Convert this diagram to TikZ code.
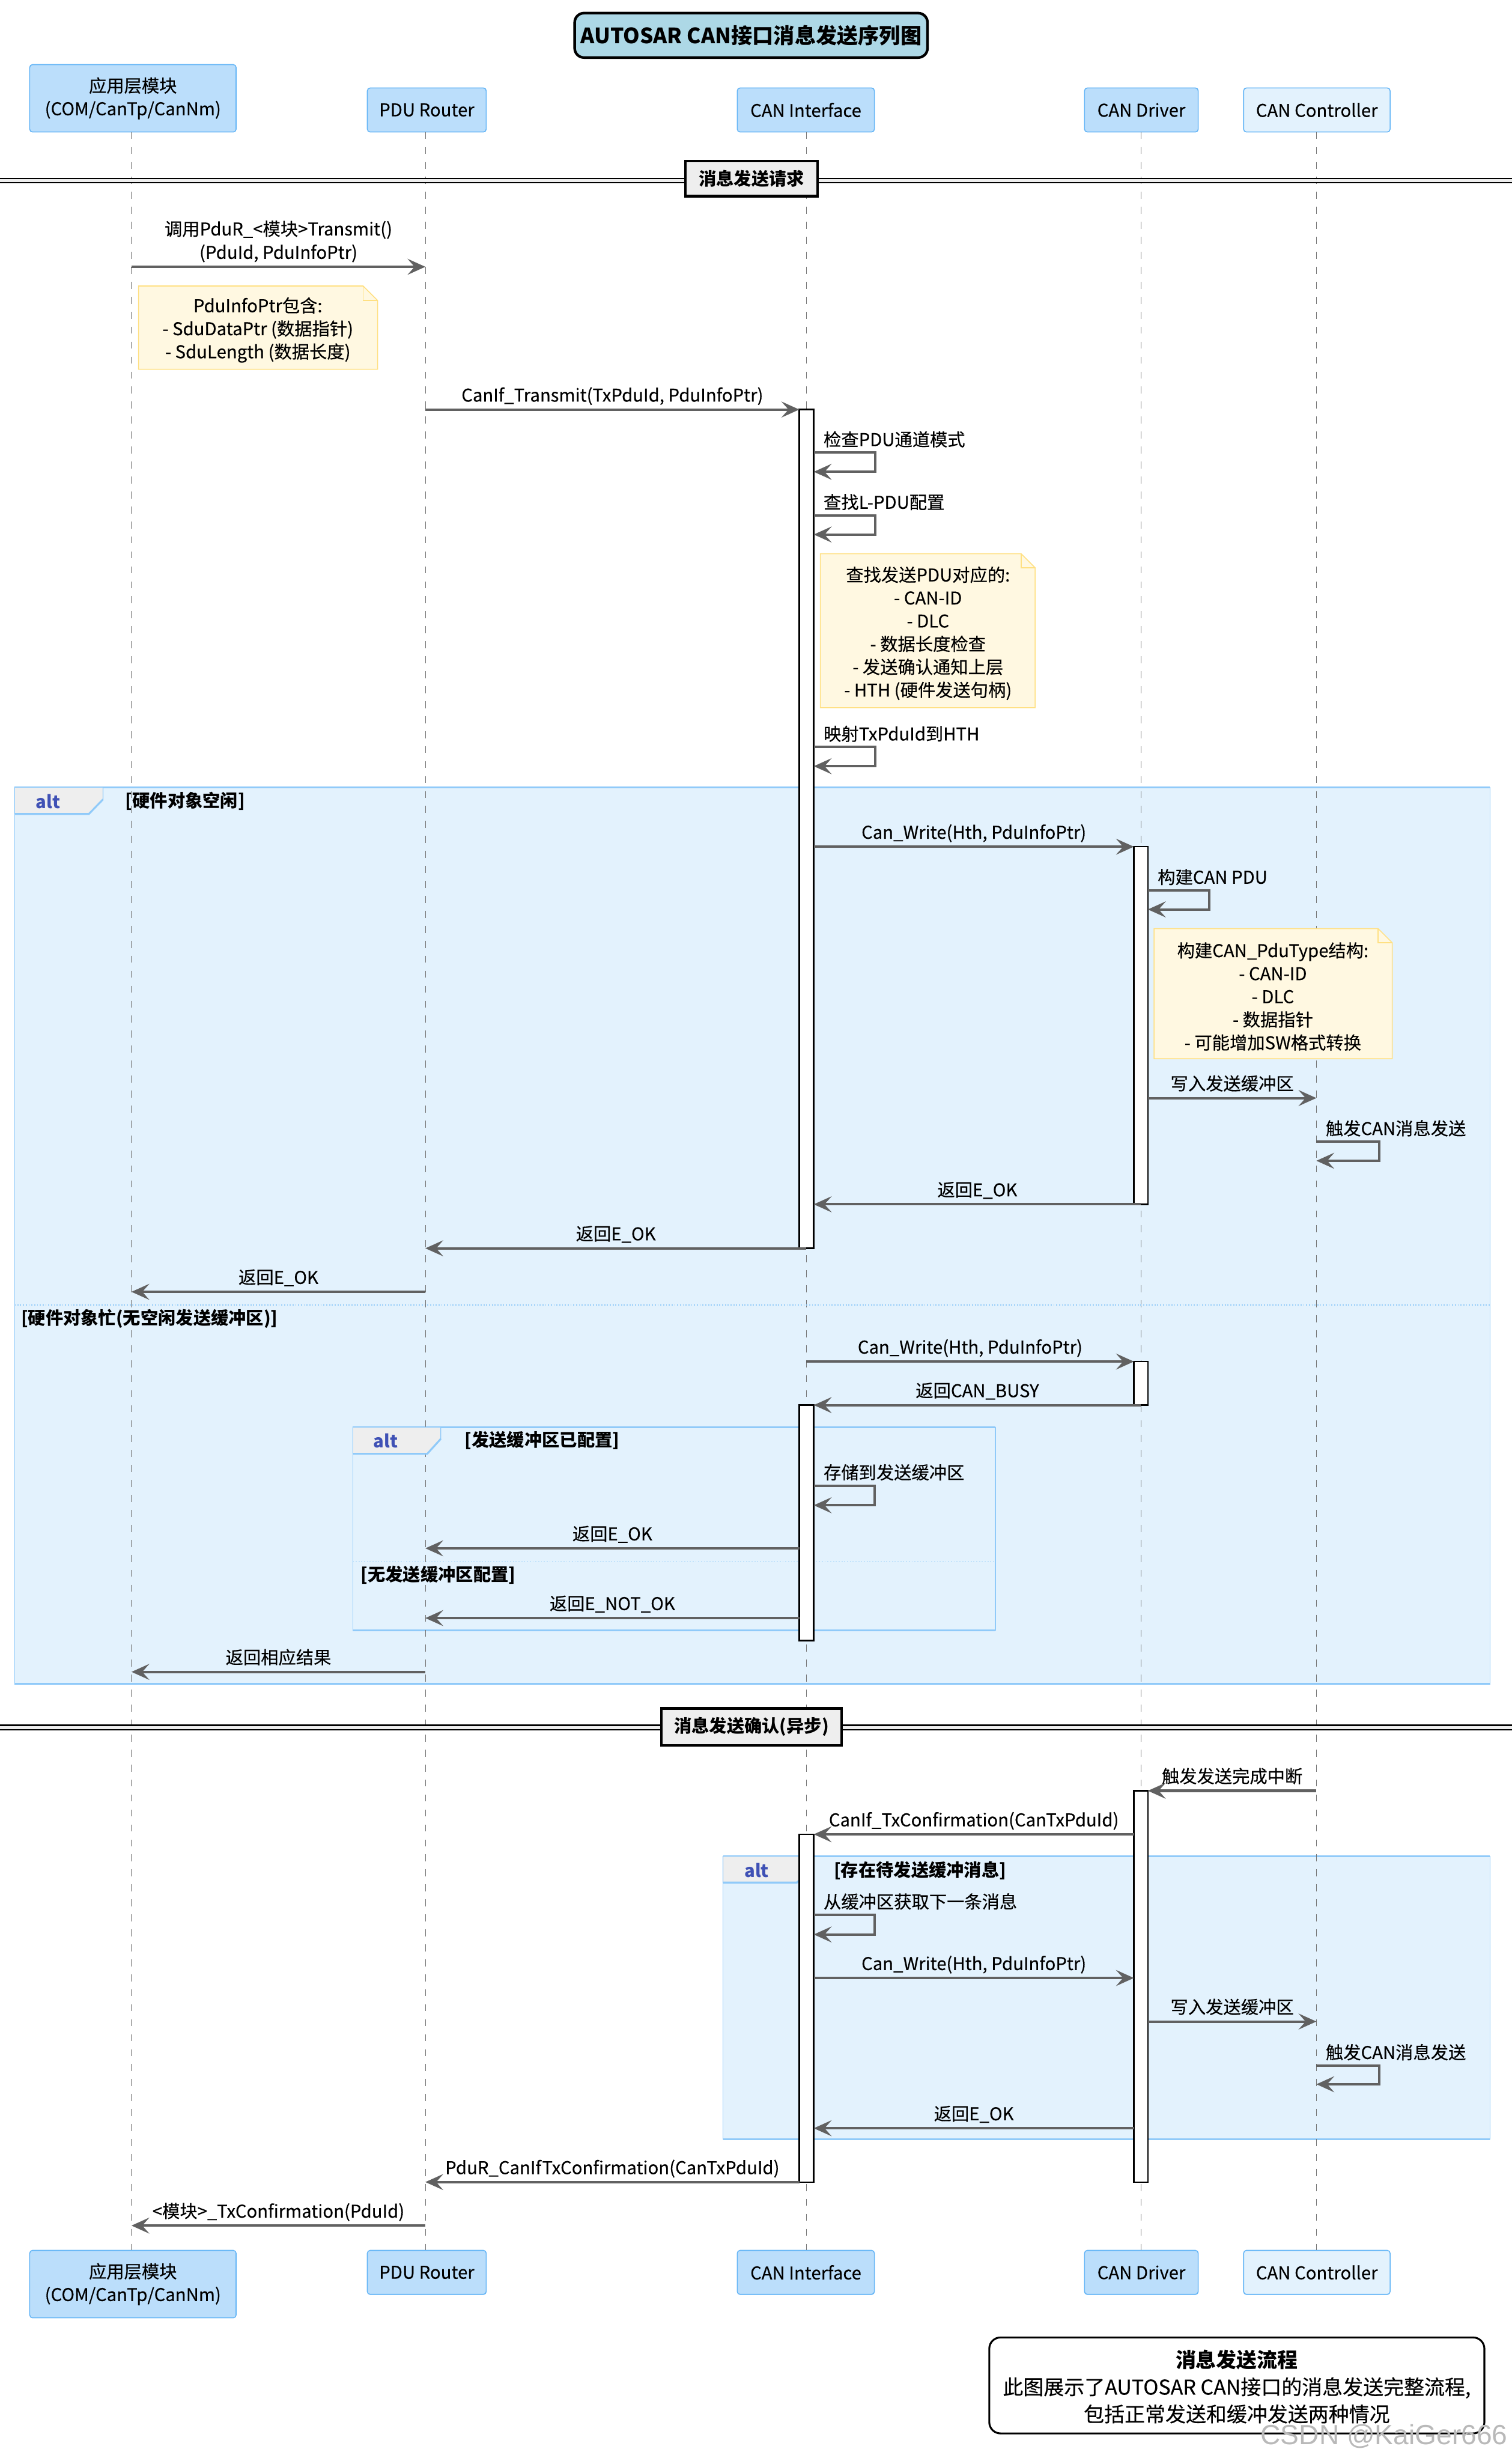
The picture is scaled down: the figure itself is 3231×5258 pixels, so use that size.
\documentclass[tikz,border=0pt]{standalone}
\usepackage{fontspec}
\setmainfont{Noto Sans CJK SC}[UprightFeatures={FakeBold=0.3}]
\newfontfamily\markfont{Liberation Sans}
\usetikzlibrary{arrows.meta}

\definecolor{partfill}{HTML}{BBDEFB}
\definecolor{partline}{HTML}{64B5F6}
\definecolor{ctlfill}{HTML}{E3F2FD}
\definecolor{framefill}{HTML}{E3F2FD}
\definecolor{frameline}{HTML}{90CAF9}
\definecolor{tabfill}{HTML}{EEEEEE}
\definecolor{notefill}{HTML}{FFF8E1}
\definecolor{noteline}{HTML}{FFE082}
\definecolor{msgline}{HTML}{616161}
\definecolor{alttext}{HTML}{3F51B5}
\definecolor{titlefill}{HTML}{ADD8E6}
\definecolor{lifecol}{HTML}{757575}

\begin{document}
\begin{tikzpicture}[x=0.25pt,y=-0.25pt,
  every node/.style={inner sep=0pt, outer sep=0pt, font=\fontsize{9.4}{12.3}\selectfont},
  part/.style={draw=partline, fill=partfill, line width=0.5pt, rounded corners=1.5pt, align=center, minimum height=23.5pt},
  ctlpart/.style={part, fill=ctlfill},
  life/.style={draw=lifecol, line width=0.35pt, dash pattern=on 3.75pt off 4.25pt},
  actbox/.style={draw=black, fill=white, line width=0.8pt},
  msg/.style={draw=msgline, line width=1.3pt, -{Stealth[length=9.5pt,width=8.5pt,inset=3.75pt]}},
  lbl/.style={anchor=base, yshift=4.25pt},
  slbl/.style={anchor=base west},
  framebox/.style={fill=framefill, draw=frameline, line width=0.4pt},
  frameedge/.style={draw=frameline, line width=1pt},
  tab/.style={fill=tabfill, draw=frameline, line width=0.4pt},
  altword/.style={font=\fontsize{9.4}{12.3}\selectfont\bfseries, text=alttext},
  guard/.style={anchor=west, font=\fontsize{9.4}{12.3}\selectfont\bfseries},
  sep/.style={draw=frameline, line width=0.5pt, dash pattern=on 0.6pt off 0.9pt},
  note/.style={fill=notefill, draw=noteline, line width=0.5pt},
  notetext/.style={align=center},
  divline/.style={draw=black, line width=0.8pt},
  divbox/.style={fill=tabfill, draw=black, line width=1.4pt, font=\fontsize{9.4}{12.3}\selectfont\bfseries},
]
\useasboundingbox (0,0) rectangle (3231,5258);
\fill[white] (0,0) rectangle (3231,5258);

% lifeline x positions
\coordinate (app) at (281,0);
\coordinate (pdu) at (909,0);
\coordinate (canif) at (1723,0);
\coordinate (ifL) at (1708,0);
\coordinate (ifR) at (1739,0);
\coordinate (drv) at (2438,0);
\coordinate (drvL) at (2423,0);
\coordinate (drvR) at (2453,0);
\coordinate (ctl) at (2813,0);

% combined fragments (backgrounds)
\path[framebox] (31,1682) rectangle (3184,3598);
\draw[frameedge] (31,1682) -- (3184,1682);
\draw[frameedge] (31,3598) -- (3184,3598);
\path[framebox] (754,3049) rectangle (2127,3483);
\draw[frameedge] (754,3049) -- (2127,3049);
\draw[frameedge] (754,3483) -- (2127,3483);
\path[framebox] (1545,3966) rectangle (3184,4571);
\draw[frameedge] (1545,3966) -- (3184,3966);
\draw[frameedge] (1545,4571) -- (3184,4571);

% participants
\node[part, minimum width=110.25pt, minimum height=36pt] (appT) at (284,210) {应用层模块\\(COM/CanTp/CanNm)};
\node[part, minimum width=63.5pt] (pduT) at (912,235) {PDU Router};
\node[part, minimum width=73.25pt] (ifT) at (1722,235) {CAN Interface};
\node[part, minimum width=60.75pt] (drvT) at (2439,235) {CAN Driver};
\node[ctlpart, minimum width=78.25pt] (ctlT) at (2814,235) {CAN Controller};
\node[part, minimum width=110.25pt, minimum height=36pt] (appB) at (284,4880) {应用层模块\\(COM/CanTp/CanNm)};
\node[part, minimum width=63.5pt] (pduB) at (912,4855) {PDU Router};
\node[part, minimum width=73.25pt] (ifB) at (1722,4855) {CAN Interface};
\node[part, minimum width=60.75pt] (drvB) at (2439,4855) {CAN Driver};
\node[ctlpart, minimum width=78.25pt] (ctlB) at (2814,4855) {CAN Controller};

% lifelines
\draw[life] (app |- appT.south) -- (app |- appB.north);
\draw[life] (pdu |- pduT.south) -- (pdu |- pduB.north);
\draw[life] (canif |- ifT.south) -- (canif |- ifB.north);
\draw[life] (drv |- drvT.south) -- (drv |- drvB.north);
\draw[life] (ctl |- ctlT.south) -- (ctl |- ctlB.north);

% section dividers
\fill[tabfill] (0,381) rectangle (3231,390);
\draw[divline] (0,381) -- (3231,381);
\draw[divline] (0,390) -- (3231,390);
\node[divbox, minimum width=70.5pt, minimum height=18.75pt] (div1) at (1606,381.5) {消息发送请求};
\fill[tabfill] (0,3686) rectangle (3231,3696);
\draw[divline] (0,3686) -- (3231,3686);
\draw[divline] (0,3696) -- (3231,3696);
\node[divbox, minimum width=96.25pt, minimum height=19.75pt] (div2) at (1606,3689.5) {消息发送确认(异步)};

% fragment tabs, guards and separators
\path[tab] (31,1682) -- (220,1682) -- (220,1708) -- (190,1739) -- (31,1739) -- cycle;
\draw[frameedge] (31,1739) -- (190,1739) -- (220,1708);
\node[altword] (alt1) at (103,1712) {alt};
\node[guard] (g1) at (268,1712) {[硬件对象空闲]};
\draw[sep] (31,2788) -- (3184,2788);
\node[guard] (g2) at (45,2817) {[硬件对象忙(无空闲发送缓冲区)]};

\path[tab] (754,3049) -- (942,3049) -- (942,3074) -- (913,3106) -- (754,3106) -- cycle;
\draw[frameedge] (754,3106) -- (913,3106) -- (942,3074);
\node[altword] (alt2) at (824,3078) {alt};
\node[guard] (g3) at (993,3078) {[发送缓冲区已配置]};
\draw[sep] (754,3337) -- (2127,3337);
\node[guard] (g4) at (771,3365) {[无发送缓冲区配置]};

\path[tab] (1545,3966) -- (1731,3966) -- (1731,3995) -- (1703,4022) -- (1545,4022) -- cycle;
\draw[frameedge] (1545,4022) -- (1703,4022) -- (1731,3995);
\node[altword] (alt3) at (1617,3996) {alt};
\node[guard] (g5) at (1782,3996) {[存在待发送缓冲消息]};

% notes
\path[note] (296,611) -- (776,611) -- (807,642) -- (807,789) -- (296,789) -- cycle;
\draw[note, fill=none] (776,611) -- (776,642) -- (807,642);
\node[notetext] (n1) at (551,705) {PduInfoPtr包含:\\- SduDataPtr (数据指针)\\- SduLength (数据长度)};

\path[note] (1753,1183) -- (2182,1183) -- (2212,1213) -- (2212,1512) -- (1753,1512) -- cycle;
\draw[note, fill=none] (2182,1183) -- (2182,1213) -- (2212,1213);
\node[notetext] (n2) at (1983,1353) {查找发送PDU对应的:\\- CAN-ID\\- DLC\\- 数据长度检查\\- 发送确认通知上层\\- HTH (硬件发送句柄)};

\path[note] (2466,1984) -- (2945,1984) -- (2975,2014) -- (2975,2262) -- (2466,2262) -- cycle;
\draw[note, fill=none] (2945,1984) -- (2945,2014) -- (2975,2014);
\node[notetext] (n3) at (2720,2129) {构建CAN\_PduType结构:\\- CAN-ID\\- DLC\\- 数据指针\\- 可能增加SW格式转换};

% activation bars
\draw[actbox] (ifL |- 0,875) rectangle (ifR |- 0,2667);
\draw[actbox] (drvL |- 0,1809) rectangle (drvR |- 0,2573);
\draw[actbox] (drvL |- 0,2909) rectangle (drvR |- 0,3002);
\draw[actbox] (ifL |- 0,3002) rectangle (ifR |- 0,3505);
\draw[actbox] (drvL |- 0,3826) rectangle (drvR |- 0,4662);
\draw[actbox] (ifL |- 0,3919) rectangle (ifR |- 0,4662);

% ---- request phase
\draw[msg] (app |- 0,570) -- (pdu |- 0,570);
\node[lbl] (m1b) at (595,570) {(PduId, PduInfoPtr)};
\node[anchor=base] (m1a) at (595,503) {调用PduR\_<模块>Transmit()};

\draw[msg] (pdu |- 0,875) -- (ifL |- 0,875) node[lbl, midway] (m2) {CanIf\_Transmit(TxPduId, PduInfoPtr)};

\draw[msg] (ifR |- 0,967) -- ++(131,0) -- ++(0,41) -- (ifR |- 0,1008);
\node[slbl] (s1) at (1760,953) {检查PDU通道模式};
\draw[msg] (ifR |- 0,1101) -- ++(131,0) -- ++(0,41) -- (ifR |- 0,1142);
\node[slbl] (s2) at (1760,1087) {查找L-PDU配置};
\draw[msg] (ifR |- 0,1596) -- ++(131,0) -- ++(0,41) -- (ifR |- 0,1637);
\node[slbl] (s3) at (1760,1582) {映射TxPduId到HTH};

% hardware object free
\draw[msg] (ifR |- 0,1809) -- (drvL |- 0,1809) node[lbl, midway] (m3) {Can\_Write(Hth, PduInfoPtr)};
\draw[msg] (drvR |- 0,1902) -- ++(131,0) -- ++(0,41) -- (drvR |- 0,1943);
\node[slbl] (s4) at (2474,1888) {构建CAN PDU};
\draw[msg] (drvR |- 0,2346) -- (ctl |- 0,2346) node[lbl, midway] (m4) {写入发送缓冲区};
\draw[msg] (ctl |- 0,2439) -- ++(134,0) -- ++(0,41) -- (ctl |- 0,2480);
\node[slbl] (s5) at (2833,2425) {触发CAN消息发送};
\draw[msg] (drv |- 0,2573) -- (ifR |- 0,2573) node[lbl, midway] (m5) {返回E\_OK};
\draw[msg] (canif |- 0,2667) -- (pdu |- 0,2667) node[lbl, midway] (m6) {返回E\_OK};
\draw[msg] (pdu |- 0,2760) -- (app |- 0,2760) node[lbl, midway] (m7) {返回E\_OK};

% hardware object busy
\draw[msg] (canif |- 0,2909) -- (drvL |- 0,2909) node[lbl, midway] (m8) {Can\_Write(Hth, PduInfoPtr)};
\draw[msg] (drv |- 0,3002) -- (ifR |- 0,3002) node[lbl, midway] (m9) {返回CAN\_BUSY};
\draw[msg] (ifR |- 0,3174) -- ++(130,0) -- ++(0,42) -- (ifR |- 0,3216);
\node[slbl] (s6) at (1760,3160) {存储到发送缓冲区};
\draw[msg] (ifL |- 0,3308) -- (pdu |- 0,3308) node[lbl, midway] (m10) {返回E\_OK};
\draw[msg] (ifL |- 0,3457) -- (pdu |- 0,3457) node[lbl, midway] (m11) {返回E\_NOT\_OK};
\draw[msg] (pdu |- 0,3572) -- (app |- 0,3572) node[lbl, midway] (m12) {返回相应结果};

% ---- confirmation phase
\draw[msg] (ctl |- 0,3826) -- (drvR |- 0,3826) node[lbl, midway] (m13) {触发发送完成中断};
\draw[msg] (drvL |- 0,3919) -- (ifR |- 0,3919) node[lbl, midway] (m14) {CanIf\_TxConfirmation(CanTxPduId)};
\draw[msg] (ifR |- 0,4091) -- ++(130,0) -- ++(0,42) -- (ifR |- 0,4133);
\node[slbl] (s7) at (1760,4077) {从缓冲区获取下一条消息};
\draw[msg] (ifR |- 0,4226) -- (drvL |- 0,4226) node[lbl, midway] (m15) {Can\_Write(Hth, PduInfoPtr)};
\draw[msg] (drvR |- 0,4319) -- (ctl |- 0,4319) node[lbl, midway] (m16) {写入发送缓冲区};
\draw[msg] (ctl |- 0,4413) -- ++(134,0) -- ++(0,40) -- (ctl |- 0,4453);
\node[slbl] (s8) at (2833,4399) {触发CAN消息发送};
\draw[msg] (drvL |- 0,4547) -- (ifR |- 0,4547) node[lbl, midway] (m17) {返回E\_OK};
\draw[msg] (ifL |- 0,4662) -- (pdu |- 0,4662) node[lbl, midway] (m18) {PduR\_CanIfTxConfirmation(CanTxPduId)};
\draw[msg] (pdu |- 0,4755) -- (app |- 0,4755) node[lbl, midway] (m19) {<模块>\_TxConfirmation(PduId)};

% title
\node[draw=black, fill=titlefill, line width=1.4pt, rounded corners=5pt,
      minimum width=188.5pt, minimum height=23.75pt,
      font=\fontsize{11.3}{13}\selectfont\bfseries] (title) at (1605,75.5) {AUTOSAR CAN接口消息发送序列图};

% summary box
\node[draw=black, fill=white, line width=1pt, rounded corners=6pt,
      minimum width=264.5pt, minimum height=51.25pt] (sumbox) at (2643,5096.5) {};
\node[align=center, font=\fontsize{10.9}{14.5}\selectfont] (sum) at (2643,5099)
  {{\bfseries 消息发送流程}\\此图展示了AUTOSAR CAN接口的消息发送完整流程,\\包括正常发送和缓冲发送两种情况};

\node[anchor=base west, font=\markfont\fontsize{14.8}{16}\selectfont, text=gray!55] (mark) at (2694,5222) {CSDN @KaiGer666};
\end{tikzpicture}
\end{document}
